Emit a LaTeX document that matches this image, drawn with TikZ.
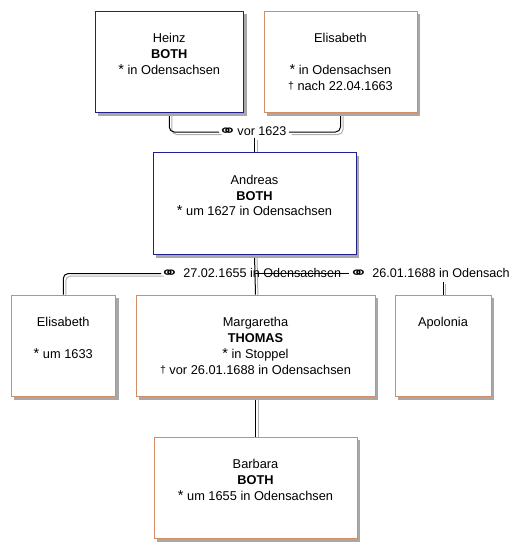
\documentclass[tikz,border=0pt]{standalone}
\usepackage{fontspec}
\usepackage{graphicx}
\setmainfont{Liberation Sans}
\newfontfamily\symfont{DejaVu Sans}
\usetikzlibrary{shadows,calc}
\pgfdeclarelayer{background}
\pgfsetlayers{background,main}
\definecolor{mblue}{RGB}{32,32,140}
\definecolor{forange}{RGB}{212,140,100}
\definecolor{shgray}{RGB}{168,168,168}
\definecolor{lngray}{RGB}{176,176,176}
\newcommand{\mystar}{{\fontsize{14.5}{14}\selectfont*}}
\newcommand{\mydag}{{\fontsize{10.5}{10}\selectfont\raisebox{1pt}{†}}}
\newcommand{\marrsym}{{\symfont\fontsize{16}{16}\selectfont\scalebox{1.4}[1]{\raisebox{-0.5pt}{⚭}}}}
\tikzset{
  pbox/.style={line width=1pt, fill=white, inner sep=0pt, anchor=north west,
    general shadow={fill=shgray, shadow xshift=3pt, shadow yshift=-3pt}},
  mbox/.style={pbox, draw=mblue},
  fbox/.style={pbox, draw=forange},
  ptext/.style={anchor=north, align=center, inner sep=0pt, font=\fontsize{12.8}{15.7}\selectfont},
  conn/.style={draw=black, line width=1pt, rounded corners=5pt,
    preaction={draw=lngray, line width=1pt, transform canvas={xshift=2.5pt, yshift=-2.5pt}}},
  marr/.style={inner sep=0pt, font=\fontsize{12.6}{14}\selectfont},
}
\begin{document}
\begin{tikzpicture}[x=1pt, y=-1pt]
\path[use as bounding box, clip] (0,0) rectangle (510,558);
% boxes
\node[mbox, minimum width=148.5pt, minimum height=101.5pt] (heinz) at (94.5,10.5) {};
\node[fbox, minimum width=153pt, minimum height=101.5pt] (elT) at (263.5,10.5) {};
\node[mbox, minimum width=203pt, minimum height=102pt] (andreas) at (152.5,152) {};
\node[fbox, minimum width=104.5pt, minimum height=101.5pt] (elL) at (10.5,294.5) {};
\node[fbox, minimum width=239pt, minimum height=101.5pt] (marg) at (135.5,294.5) {};
\node[fbox, minimum width=96pt, minimum height=101.5pt] (apol) at (394.5,294.5) {};
\node[fbox, minimum width=203pt, minimum height=101.5pt] (barbara) at (153.5,436.5) {};
% texts
\node[ptext] (heinzT) at ([yshift=-23pt]heinz.north) {Heinz\\\textbf{BOTH}\\\mystar\ in Odensachsen};
\node[ptext] (elTT) at ([yshift=-23pt]elT.north) {Elisabeth\\\mbox{}\\\mystar\ in Odensachsen\\\mydag\ nach 22.04.1663};
\node[ptext] (andreasT) at ([yshift=-23pt]andreas.north) {Andreas\\\textbf{BOTH}\\\mystar\ um 1627 in Odensachsen};
\node[ptext] (elLT) at ([yshift=-23pt]elL.north) {Elisabeth\\\mbox{}\\\mystar\ um 1633};
\node[ptext] (margT) at ([yshift=-23pt]marg.north) {Margaretha\\\textbf{THOMAS}\\\mystar\ in Stoppel\\\mydag\ vor 26.01.1688 in Odensachsen};
\node[ptext] (apolT) at ([yshift=-23pt]apol.north) {Apolonia};
\node[ptext] (barbaraT) at ([yshift=-23pt]barbara.north) {Barbara\\\textbf{BOTH}\\\mystar\ um 1655 in Odensachsen};
% connectors
\begin{pgfonlayer}{background}
\fill[white] (0,0) rectangle (510,558);
\coordinate (tl) at (219,132);
\coordinate (tr) at (289,132);
\coordinate (tc) at ($(andreas.north)+(0,-14.5)$);
\draw[conn] (heinz.south) |- (tl);
\draw[conn] (elT.south) |- (tr);
\draw[conn] (tc) -- (andreas.north);
\node[marr, anchor=base west] (m1) at (218,135.7) {\marrsym\hspace{0.5pt}vor 1623};
\coordinate (l2) at (161,273.5);
\coordinate (s2) at (349,273.5);
\coordinate (a3) at ($(apol.north)+(0,-13)$);
\draw[conn] (elL.north) |- (l2);
\draw[conn] (andreas.south) -- (marg.north);
\node[marr, anchor=base west] (m2) at (160,277.7) {\marrsym\hspace{4.5pt}27.02.1655 in Odensachsen};
\node[marr, anchor=base west] (m3) at (349,277.7) {\marrsym\hspace{4.5pt}26.01.1688 in Odensachsen};
\draw[line width=1pt] (andreas.south |- l2) -- (s2);
\draw[conn] (a3) -- (apol.north);
\draw[conn] (marg.south) -- (barbara.north);
\end{pgfonlayer}
\end{tikzpicture}
\end{document}
